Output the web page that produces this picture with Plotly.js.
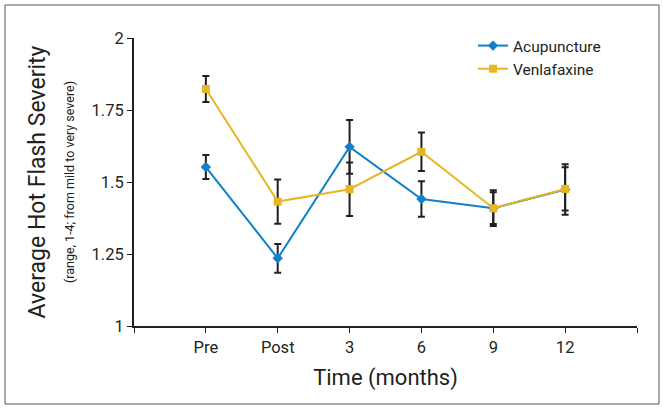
<!DOCTYPE html>
<html>
<head>
<meta charset="utf-8">
<script src="https://cdn.plot.ly/plotly-3.0.1.min.js"></script>
<style>html,body{margin:0;padding:0;background:#fff;}#chart{width:663px;height:408px;}</style>
</head>
<body>
<div id="chart"></div>
<script>
const categories = ['Pre', 'Post', '3', '6', '9', '12'];
const acupuncture = [1.552, 1.235, 1.622, 1.441, 1.409, 1.474];
const acupunctureErr = [0.042, 0.050, 0.093, 0.062, 0.062, 0.088];
const venlafaxine = [1.823, 1.432, 1.475, 1.605, 1.409, 1.476];
const venlafaxineErr = [0.045, 0.077, 0.093, 0.067, 0.055, 0.075];
const yTicks = [1, 1.25, 1.5, 1.75, 2];
const yTickText = ['1', '1.25', '1.5', '1.75', '2'];

const xIdx = categories.map((c, i) => i);
const font = 'Roboto, "Liberation Sans", sans-serif';

const errStyle = (arr) => ({type: 'data', array: arr, visible: true, color: '#231f20', thickness: 2, width: 3.5});

const traces = [
  {
    x: xIdx, y: acupuncture, name: 'Acupuncture', type: 'scatter', mode: 'lines+markers',
    line: {color: '#1180c6', width: 2},
    marker: {symbol: 'diamond', size: 8, color: '#1180c6'},
    error_y: errStyle(acupunctureErr)
  },
  {
    x: xIdx, y: venlafaxine, name: 'Venlafaxine', type: 'scatter', mode: 'lines+markers',
    line: {color: '#e9b623', width: 2},
    marker: {symbol: 'square', size: 8, color: '#e9b623'},
    error_y: errStyle(venlafaxineErr)
  }
];

const L = 134, R = 637, T = 38, B = 326;
const px = v => (v - L) / (R - L);
const py = v => (B - v) / (B - T);

const layout = {
  width: 663, height: 408,
  margin: {l: L, r: 663 - R, t: T, b: 408 - B},
  paper_bgcolor: '#ffffff', plot_bgcolor: '#ffffff',
  font: {family: font, color: '#231f20', size: 16},
  showlegend: true,
  legend: {
    x: px(473), y: py(29), xanchor: 'left', yanchor: 'top',
    font: {family: font, size: 15.5, color: '#231f20'},
    bgcolor: 'rgba(0,0,0,0)', tracegroupgap: 0, itemwidth: 30
  },
  xaxis: {
    range: [-1, 6],
    tickmode: 'array',
    tickvals: [-1, 0, 1, 2, 3, 4, 5, 6],
    ticktext: [''].concat(categories).concat(['']),
    showgrid: false, zeroline: false,
    showline: true, linecolor: '#231f20', linewidth: 2,
    ticks: 'outside', ticklen: 5, tickwidth: 1, tickcolor: '#231f20',
    tickfont: {family: font, size: 16.5},
    title: {text: 'Time (months)', font: {family: font, size: 22}, standoff: 14}
  },
  yaxis: {
    range: [1, 2],
    tickmode: 'array', tickvals: yTicks, ticktext: yTickText,
    showgrid: false, zeroline: false,
    showline: true, linecolor: '#231f20', linewidth: 2,
    ticks: 'outside', ticklen: 5, tickwidth: 1, tickcolor: '#231f20',
    tickfont: {family: font, size: 16.5},
    title: {
      text: 'Average Hot Flash Severity<br><span style="font-size:12.5px">(range, 1-4; from mild to very severe)</span>',
      font: {family: font, size: 23}, standoff: 10
    }
  },
  shapes: [{
    type: 'rect', xref: 'paper', yref: 'paper',
    x0: px(5), x1: px(659), y0: py(404), y1: py(5),
    line: {color: '#555555', width: 1}, fillcolor: 'rgba(0,0,0,0)', layer: 'below'
  }]
};

Plotly.newPlot('chart', traces, layout, {displayModeBar: false, staticPlot: true});
</script>
</body>
</html>
